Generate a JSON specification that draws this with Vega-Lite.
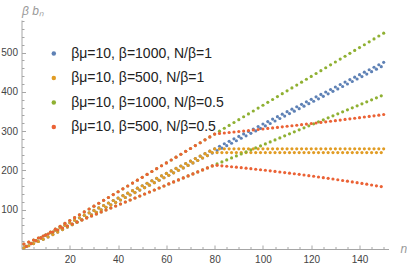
{
"$schema":"https://vega.github.io/schema/vega-lite/v6.json",
"width":367,"height":229,
"autosize":{"type":"none"},
"padding":{"left":21.5,"top":20,"right":18.5,"bottom":18},
"datasets":{
"b":[{"n":1,"v":2.7},{"n":2,"v":7.1},{"n":3,"v":8.2},{"n":4,"v":14.2},{"n":5,"v":13.7},{"n":6,"v":21.3},{"n":7,"v":19.2},{"n":8,"v":28.3},{"n":9,"v":24.7},{"n":10,"v":35.4},{"n":11,"v":30.6},{"n":12,"v":41.7},{"n":13,"v":36.8},{"n":14,"v":48.0},{"n":15,"v":43.1},{"n":16,"v":54.3},{"n":17,"v":49.4},{"n":18,"v":60.6},{"n":19,"v":55.7},{"n":20,"v":66.8},{"n":21,"v":62.0},{"n":22,"v":73.1},{"n":23,"v":68.3},{"n":24,"v":79.4},{"n":25,"v":74.5},{"n":26,"v":85.7},{"n":27,"v":80.8},{"n":28,"v":92.0},{"n":29,"v":87.1},{"n":30,"v":98.3},{"n":31,"v":93.4},{"n":32,"v":104.5},{"n":33,"v":99.7},{"n":34,"v":110.8},{"n":35,"v":106.0},{"n":36,"v":117.1},{"n":37,"v":112.2},{"n":38,"v":123.4},{"n":39,"v":118.5},{"n":40,"v":129.7},{"n":41,"v":124.8},{"n":42,"v":136.0},{"n":43,"v":131.1},{"n":44,"v":142.2},{"n":45,"v":137.4},{"n":46,"v":148.5},{"n":47,"v":143.7},{"n":48,"v":154.8},{"n":49,"v":149.9},{"n":50,"v":161.1},{"n":51,"v":156.2},{"n":52,"v":167.4},{"n":53,"v":162.5},{"n":54,"v":173.7},{"n":55,"v":168.8},{"n":56,"v":179.9},{"n":57,"v":175.1},{"n":58,"v":186.2},{"n":59,"v":181.4},{"n":60,"v":192.5},{"n":61,"v":187.6},{"n":62,"v":198.8},{"n":63,"v":193.9},{"n":64,"v":205.1},{"n":65,"v":200.2},{"n":66,"v":211.4},{"n":67,"v":206.5},{"n":68,"v":217.6},{"n":69,"v":212.8},{"n":70,"v":223.9},{"n":71,"v":219.1},{"n":72,"v":230.2},{"n":73,"v":225.3},{"n":74,"v":236.5},{"n":75,"v":231.6},{"n":76,"v":242.8},{"n":77,"v":237.9},{"n":78,"v":249.0},{"n":79,"v":244.2},{"n":80,"v":255.3},{"n":81,"v":250.5},{"n":82,"v":261.6},{"n":83,"v":256.8},{"n":84,"v":267.9},{"n":85,"v":263.0},{"n":86,"v":274.2},{"n":87,"v":269.3},{"n":88,"v":280.5},{"n":89,"v":275.6},{"n":90,"v":286.7},{"n":91,"v":281.9},{"n":92,"v":293.0},{"n":93,"v":288.2},{"n":94,"v":299.3},{"n":95,"v":294.5},{"n":96,"v":305.6},{"n":97,"v":300.7},{"n":98,"v":311.9},{"n":99,"v":307.0},{"n":100,"v":318.2},{"n":101,"v":313.3},{"n":102,"v":324.4},{"n":103,"v":319.6},{"n":104,"v":330.7},{"n":105,"v":325.9},{"n":106,"v":337.0},{"n":107,"v":332.2},{"n":108,"v":343.3},{"n":109,"v":338.4},{"n":110,"v":349.6},{"n":111,"v":344.7},{"n":112,"v":355.9},{"n":113,"v":351.0},{"n":114,"v":362.1},{"n":115,"v":357.3},{"n":116,"v":368.4},{"n":117,"v":363.6},{"n":118,"v":374.7},{"n":119,"v":369.9},{"n":120,"v":381.0},{"n":121,"v":376.1},{"n":122,"v":387.3},{"n":123,"v":382.4},{"n":124,"v":393.6},{"n":125,"v":388.7},{"n":126,"v":399.8},{"n":127,"v":395.0},{"n":128,"v":406.1},{"n":129,"v":401.3},{"n":130,"v":412.4},{"n":131,"v":407.6},{"n":132,"v":418.7},{"n":133,"v":413.8},{"n":134,"v":425.0},{"n":135,"v":420.1},{"n":136,"v":431.3},{"n":137,"v":426.4},{"n":138,"v":437.5},{"n":139,"v":432.7},{"n":140,"v":443.8},{"n":141,"v":439.0},{"n":142,"v":450.1},{"n":143,"v":445.3},{"n":144,"v":456.4},{"n":145,"v":451.5},{"n":146,"v":462.7},{"n":147,"v":457.8},{"n":148,"v":469.0},{"n":149,"v":464.1},{"n":150,"v":475.2}],
"o":[{"n":1,"v":2.7},{"n":2,"v":7.1},{"n":3,"v":8.2},{"n":4,"v":14.2},{"n":5,"v":13.7},{"n":6,"v":21.3},{"n":7,"v":19.2},{"n":8,"v":28.3},{"n":9,"v":24.7},{"n":10,"v":35.4},{"n":11,"v":30.6},{"n":12,"v":41.7},{"n":13,"v":36.8},{"n":14,"v":48.0},{"n":15,"v":43.1},{"n":16,"v":54.3},{"n":17,"v":49.4},{"n":18,"v":60.6},{"n":19,"v":55.7},{"n":20,"v":66.8},{"n":21,"v":62.0},{"n":22,"v":73.1},{"n":23,"v":68.3},{"n":24,"v":79.4},{"n":25,"v":74.5},{"n":26,"v":85.7},{"n":27,"v":80.8},{"n":28,"v":92.0},{"n":29,"v":87.1},{"n":30,"v":98.3},{"n":31,"v":93.4},{"n":32,"v":104.5},{"n":33,"v":99.7},{"n":34,"v":110.8},{"n":35,"v":106.0},{"n":36,"v":117.1},{"n":37,"v":112.2},{"n":38,"v":123.4},{"n":39,"v":118.5},{"n":40,"v":129.7},{"n":41,"v":124.8},{"n":42,"v":136.0},{"n":43,"v":131.1},{"n":44,"v":142.2},{"n":45,"v":137.4},{"n":46,"v":148.5},{"n":47,"v":143.7},{"n":48,"v":154.8},{"n":49,"v":149.9},{"n":50,"v":161.1},{"n":51,"v":156.2},{"n":52,"v":167.4},{"n":53,"v":162.5},{"n":54,"v":173.7},{"n":55,"v":168.8},{"n":56,"v":179.9},{"n":57,"v":175.1},{"n":58,"v":186.2},{"n":59,"v":181.4},{"n":60,"v":192.5},{"n":61,"v":187.6},{"n":62,"v":198.8},{"n":63,"v":193.9},{"n":64,"v":205.1},{"n":65,"v":200.2},{"n":66,"v":211.4},{"n":67,"v":206.5},{"n":68,"v":217.6},{"n":69,"v":212.8},{"n":70,"v":223.9},{"n":71,"v":219.1},{"n":72,"v":230.2},{"n":73,"v":225.3},{"n":74,"v":236.5},{"n":75,"v":231.6},{"n":76,"v":242.8},{"n":77,"v":237.9},{"n":78,"v":249.0},{"n":79,"v":245.5},{"n":80,"v":255},{"n":81,"v":245.5},{"n":82,"v":255},{"n":83,"v":245.5},{"n":84,"v":255},{"n":85,"v":245.5},{"n":86,"v":255},{"n":87,"v":245.5},{"n":88,"v":255},{"n":89,"v":245.5},{"n":90,"v":255},{"n":91,"v":245.5},{"n":92,"v":255},{"n":93,"v":245.5},{"n":94,"v":255},{"n":95,"v":245.5},{"n":96,"v":255},{"n":97,"v":245.5},{"n":98,"v":255},{"n":99,"v":245.5},{"n":100,"v":255},{"n":101,"v":245.5},{"n":102,"v":255},{"n":103,"v":245.5},{"n":104,"v":255},{"n":105,"v":245.5},{"n":106,"v":255},{"n":107,"v":245.5},{"n":108,"v":255},{"n":109,"v":245.5},{"n":110,"v":255},{"n":111,"v":245.5},{"n":112,"v":255},{"n":113,"v":245.5},{"n":114,"v":255},{"n":115,"v":245.5},{"n":116,"v":255},{"n":117,"v":245.5},{"n":118,"v":255},{"n":119,"v":245.5},{"n":120,"v":255},{"n":121,"v":245.5},{"n":122,"v":255},{"n":123,"v":245.5},{"n":124,"v":255},{"n":125,"v":245.5},{"n":126,"v":255},{"n":127,"v":245.5},{"n":128,"v":255},{"n":129,"v":245.5},{"n":130,"v":255},{"n":131,"v":245.5},{"n":132,"v":255},{"n":133,"v":245.5},{"n":134,"v":255},{"n":135,"v":245.5},{"n":136,"v":255},{"n":137,"v":245.5},{"n":138,"v":255},{"n":139,"v":245.5},{"n":140,"v":255},{"n":141,"v":245.5},{"n":142,"v":255},{"n":143,"v":245.5},{"n":144,"v":255},{"n":145,"v":245.5},{"n":146,"v":255},{"n":147,"v":245.5},{"n":148,"v":255},{"n":149,"v":245.5},{"n":150,"v":255}],
"g":[{"n":1,"v":12.6},{"n":2,"v":6.3},{"n":3,"v":17.7},{"n":4,"v":13.7},{"n":5,"v":22.8},{"n":6,"v":21.0},{"n":7,"v":27.9},{"n":8,"v":28.4},{"n":9,"v":33.0},{"n":10,"v":35.7},{"n":11,"v":38.1},{"n":12,"v":43.0},{"n":13,"v":43.2},{"n":14,"v":50.4},{"n":15,"v":48.3},{"n":16,"v":57.7},{"n":17,"v":53.4},{"n":18,"v":65.1},{"n":19,"v":58.5},{"n":20,"v":72.4},{"n":21,"v":63.6},{"n":22,"v":79.7},{"n":23,"v":68.7},{"n":24,"v":87.1},{"n":25,"v":73.8},{"n":26,"v":94.4},{"n":27,"v":78.9},{"n":28,"v":101.8},{"n":29,"v":84.0},{"n":30,"v":109.1},{"n":31,"v":89.1},{"n":32,"v":116.4},{"n":33,"v":94.2},{"n":34,"v":123.8},{"n":35,"v":99.3},{"n":36,"v":131.1},{"n":37,"v":104.4},{"n":38,"v":138.5},{"n":39,"v":109.5},{"n":40,"v":145.8},{"n":41,"v":114.6},{"n":42,"v":153.1},{"n":43,"v":119.7},{"n":44,"v":160.5},{"n":45,"v":124.8},{"n":46,"v":167.8},{"n":47,"v":129.9},{"n":48,"v":175.2},{"n":49,"v":135.0},{"n":50,"v":182.5},{"n":51,"v":140.1},{"n":52,"v":189.8},{"n":53,"v":145.2},{"n":54,"v":197.2},{"n":55,"v":150.3},{"n":56,"v":204.5},{"n":57,"v":155.4},{"n":58,"v":211.9},{"n":59,"v":160.5},{"n":60,"v":219.2},{"n":61,"v":165.6},{"n":62,"v":226.5},{"n":63,"v":170.7},{"n":64,"v":233.9},{"n":65,"v":175.8},{"n":66,"v":241.2},{"n":67,"v":180.9},{"n":68,"v":248.6},{"n":69,"v":186.0},{"n":70,"v":255.9},{"n":71,"v":191.1},{"n":72,"v":263.2},{"n":73,"v":196.2},{"n":74,"v":270.6},{"n":75,"v":201.3},{"n":76,"v":277.9},{"n":77,"v":206.4},{"n":78,"v":285.3},{"n":79,"v":211.5},{"n":80,"v":292.6},{"n":81,"v":216.6},{"n":82,"v":299.9},{"n":83,"v":221.7},{"n":84,"v":307.3},{"n":85,"v":226.8},{"n":86,"v":314.6},{"n":87,"v":231.9},{"n":88,"v":322.0},{"n":89,"v":237.0},{"n":90,"v":329.3},{"n":91,"v":242.1},{"n":92,"v":336.6},{"n":93,"v":247.2},{"n":94,"v":344.0},{"n":95,"v":252.3},{"n":96,"v":351.3},{"n":97,"v":257.4},{"n":98,"v":358.7},{"n":99,"v":262.5},{"n":100,"v":366.0},{"n":101,"v":267.6},{"n":102,"v":373.3},{"n":103,"v":272.7},{"n":104,"v":380.7},{"n":105,"v":277.8},{"n":106,"v":388.0},{"n":107,"v":282.9},{"n":108,"v":395.4},{"n":109,"v":288.0},{"n":110,"v":402.7},{"n":111,"v":293.1},{"n":112,"v":410.0},{"n":113,"v":298.2},{"n":114,"v":417.4},{"n":115,"v":303.3},{"n":116,"v":424.7},{"n":117,"v":308.4},{"n":118,"v":432.1},{"n":119,"v":313.5},{"n":120,"v":439.4},{"n":121,"v":318.6},{"n":122,"v":446.7},{"n":123,"v":323.7},{"n":124,"v":454.1},{"n":125,"v":328.8},{"n":126,"v":461.4},{"n":127,"v":333.9},{"n":128,"v":468.8},{"n":129,"v":339.0},{"n":130,"v":476.1},{"n":131,"v":344.1},{"n":132,"v":483.4},{"n":133,"v":349.2},{"n":134,"v":490.8},{"n":135,"v":354.3},{"n":136,"v":498.1},{"n":137,"v":359.4},{"n":138,"v":505.5},{"n":139,"v":364.5},{"n":140,"v":512.8},{"n":141,"v":369.6},{"n":142,"v":520.1},{"n":143,"v":374.7},{"n":144,"v":527.5},{"n":145,"v":379.8},{"n":146,"v":534.8},{"n":147,"v":384.9},{"n":148,"v":542.2},{"n":149,"v":390.0},{"n":150,"v":549.5}],
"r":[{"n":1,"v":12.6},{"n":2,"v":6.3},{"n":3,"v":17.7},{"n":4,"v":13.7},{"n":5,"v":22.8},{"n":6,"v":21.0},{"n":7,"v":27.9},{"n":8,"v":28.4},{"n":9,"v":33.0},{"n":10,"v":35.7},{"n":11,"v":38.1},{"n":12,"v":43.0},{"n":13,"v":43.2},{"n":14,"v":50.4},{"n":15,"v":48.3},{"n":16,"v":57.7},{"n":17,"v":53.4},{"n":18,"v":65.1},{"n":19,"v":58.5},{"n":20,"v":72.4},{"n":21,"v":63.6},{"n":22,"v":79.7},{"n":23,"v":68.7},{"n":24,"v":87.1},{"n":25,"v":73.8},{"n":26,"v":94.4},{"n":27,"v":78.9},{"n":28,"v":101.8},{"n":29,"v":84.0},{"n":30,"v":109.1},{"n":31,"v":89.1},{"n":32,"v":116.4},{"n":33,"v":94.2},{"n":34,"v":123.8},{"n":35,"v":99.3},{"n":36,"v":131.1},{"n":37,"v":104.4},{"n":38,"v":138.5},{"n":39,"v":109.5},{"n":40,"v":145.8},{"n":41,"v":114.6},{"n":42,"v":153.1},{"n":43,"v":119.7},{"n":44,"v":160.5},{"n":45,"v":124.8},{"n":46,"v":167.8},{"n":47,"v":129.9},{"n":48,"v":175.2},{"n":49,"v":135.0},{"n":50,"v":182.5},{"n":51,"v":140.1},{"n":52,"v":189.8},{"n":53,"v":145.2},{"n":54,"v":197.2},{"n":55,"v":150.3},{"n":56,"v":204.5},{"n":57,"v":155.4},{"n":58,"v":211.9},{"n":59,"v":160.5},{"n":60,"v":219.2},{"n":61,"v":165.6},{"n":62,"v":226.5},{"n":63,"v":170.7},{"n":64,"v":233.9},{"n":65,"v":175.8},{"n":66,"v":241.2},{"n":67,"v":180.9},{"n":68,"v":248.6},{"n":69,"v":186.0},{"n":70,"v":255.9},{"n":71,"v":191.1},{"n":72,"v":263.2},{"n":73,"v":196.2},{"n":74,"v":270.6},{"n":75,"v":201.3},{"n":76,"v":277.9},{"n":77,"v":206.4},{"n":78,"v":285.3},{"n":79,"v":211.5},{"n":80,"v":292.6},{"n":81,"v":212.9},{"n":82,"v":294.2},{"n":83,"v":211.8},{"n":84,"v":295.4},{"n":85,"v":210.7},{"n":86,"v":296.7},{"n":87,"v":209.5},{"n":88,"v":297.9},{"n":89,"v":208.3},{"n":90,"v":299.2},{"n":91,"v":207.0},{"n":92,"v":300.4},{"n":93,"v":205.8},{"n":94,"v":301.7},{"n":95,"v":204.5},{"n":96,"v":303.0},{"n":97,"v":203.1},{"n":98,"v":304.3},{"n":99,"v":201.8},{"n":100,"v":305.6},{"n":101,"v":200.4},{"n":102,"v":306.9},{"n":103,"v":199.0},{"n":104,"v":308.3},{"n":105,"v":197.6},{"n":106,"v":309.6},{"n":107,"v":196.1},{"n":108,"v":311.0},{"n":109,"v":194.6},{"n":110,"v":312.4},{"n":111,"v":193.1},{"n":112,"v":313.7},{"n":113,"v":191.5},{"n":114,"v":315.1},{"n":115,"v":190.0},{"n":116,"v":316.5},{"n":117,"v":188.4},{"n":118,"v":318.0},{"n":119,"v":186.7},{"n":120,"v":319.4},{"n":121,"v":185.1},{"n":122,"v":320.8},{"n":123,"v":183.4},{"n":124,"v":322.3},{"n":125,"v":181.7},{"n":126,"v":323.8},{"n":127,"v":179.9},{"n":128,"v":325.3},{"n":129,"v":178.1},{"n":130,"v":326.8},{"n":131,"v":176.3},{"n":132,"v":328.3},{"n":133,"v":174.5},{"n":134,"v":329.8},{"n":135,"v":172.7},{"n":136,"v":331.3},{"n":137,"v":170.8},{"n":138,"v":332.8},{"n":139,"v":168.9},{"n":140,"v":334.4},{"n":141,"v":166.9},{"n":142,"v":336.0},{"n":143,"v":165.0},{"n":144,"v":337.5},{"n":145,"v":163.0},{"n":146,"v":339.1},{"n":147,"v":160.9},{"n":148,"v":340.7},{"n":149,"v":158.9},{"n":150,"v":342.4}]
},
"encoding":{
"x":{"field":"n","type":"quantitative","scale":{"domain":[0,152],"nice":false,"zero":false},
"axis":{"values":[5,10,15,20,25,30,35,40,45,50,55,60,65,70,75,80,85,90,95,100,105,110,115,120,125,130,135,140,145,150],
"labelExpr":"datum.value % 20 === 0 ? datum.label : ''",
"tickSize":{"condition":{"test":"datum.value % 20 === 0","value":-4},"value":-2.5},
"labelPadding":9,"labelFlush":false,"labelOverlap":false,
"title":"n","titleX":378.5,"titleY":3,"titleAlign":"left","titleBaseline":"alphabetic","titleAnchor":null}},
"y":{"field":"v","type":"quantitative","scale":{"domain":[0,583],"nice":false,"zero":false},
"axis":{"values":[20,40,60,80,100,120,140,160,180,200,220,240,260,280,300,320,340,360,380,400,420,440,460,480,500,520,540,560,580],
"labelExpr":"datum.value % 100 === 0 ? datum.label : ''",
"tickSize":{"condition":{"test":"datum.value % 100 === 0","value":-4},"value":-2.5},
"labelPadding":8,"labelFlush":false,"labelOverlap":false,
"title":"β bₙ","titleAngle":0,"titleX":0,"titleY":-6,"titleAlign":"left","titleBaseline":"alphabetic","titleAnchor":null}}
},
"layer":[
{"data":{"name":"b"},"mark":{"type":"point","filled":true,"size":10,"opacity":1,"shape":"circle"},
"encoding":{"color":{"datum":"βμ=10, β=1000, N/β=1","scale":{"domain":["βμ=10, β=1000, N/β=1","βμ=10, β=500, N/β=1","βμ=10, β=1000, N/β=0.5","βμ=10, β=500, N/β=0.5"],"range":["#5E81B5","#E19C24","#8FB032","#EB6235"]}}}},
{"data":{"name":"o"},"mark":{"type":"point","filled":true,"size":10,"opacity":1,"shape":"circle"},
"encoding":{"color":{"datum":"βμ=10, β=500, N/β=1"}}},
{"data":{"name":"g"},"mark":{"type":"point","filled":true,"size":10,"opacity":1,"shape":"circle"},
"encoding":{"color":{"datum":"βμ=10, β=1000, N/β=0.5"}}},
{"data":{"name":"r"},"mark":{"type":"point","filled":true,"size":10,"opacity":1,"shape":"circle"},
"encoding":{"color":{"datum":"βμ=10, β=500, N/β=0.5"}}}
],
"config":{
"view":{"stroke":null},
"font":"Liberation Sans",
"axis":{"grid":false,"domainColor":"#a6a6a6","tickColor":"#a6a6a6","domainWidth":1,"tickWidth":1,
"labelFont":"Liberation Sans","labelFontSize":10,"labelColor":"#444444",
"titleFont":"Liberation Sans","titleFontSize":12,"titleFontStyle":"italic","titleFontWeight":"normal","titleColor":"#999999"},
"legend":{"orient":"none","legendX":25.3,"legendY":26.5,"title":null,"padding":0,
"labelFont":"Liberation Sans","labelFontSize":14,"labelColor":"#222222","labelOffset":10.4,
"symbolType":"circle","symbolSize":20,"symbolStrokeWidth":0,"rowPadding":10.5,"labelLimit":300}
}
}
